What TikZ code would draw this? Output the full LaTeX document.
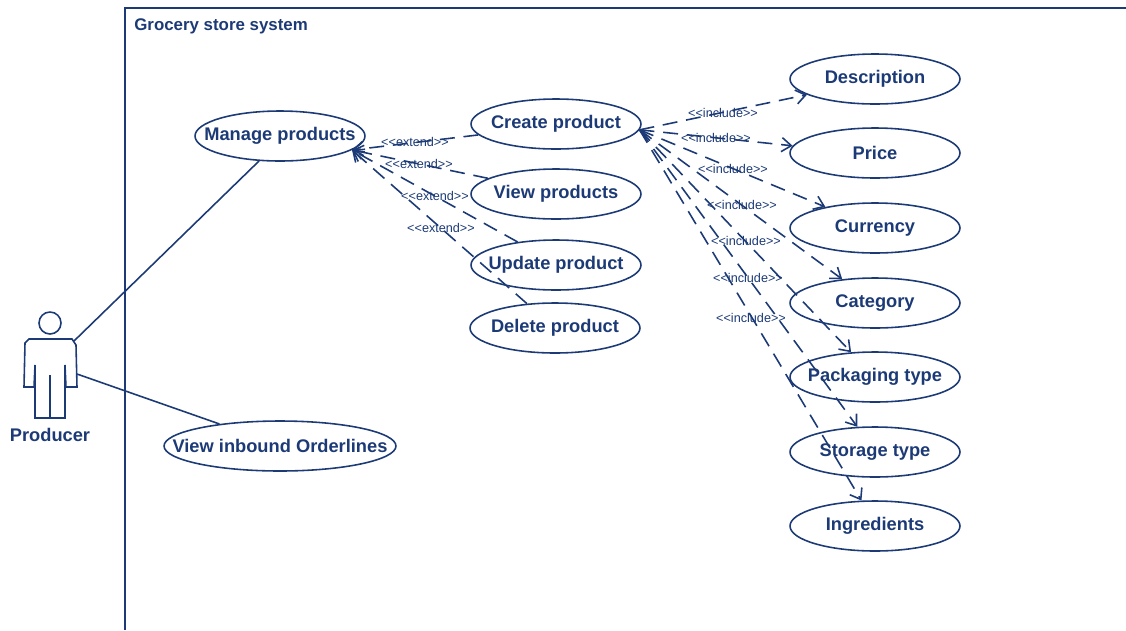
\documentclass[tikz,border=0pt]{standalone}
\usepackage{fontspec}
\setmainfont{Liberation Sans}
\usepackage{xcolor}
\usetikzlibrary{arrows.meta,shapes.geometric}
\definecolor{umlblue}{RGB}{28,58,118}
\newcommand{\uctext}[1]{\makebox[0pt]{\raisebox{-1.6pt}{#1}}}
\newcommand{\extendtext}{<{}<extend>{}>}
\newcommand{\includetext}{<{}<include>{}>}
\tikzset{
    usecase/.style={draw=umlblue, ellipse, line width=0.9pt, minimum width=3.4cm, minimum height=1cm, inner sep=0pt, text=umlblue, font=\fontsize{10.4}{12}\selectfont\bfseries},
    stereo/.style={text=umlblue, inner sep=0pt, font=\fontsize{7.2}{9}\selectfont},
    assoc/.style={draw=umlblue, line width=0.9pt},
    dep/.style={draw=umlblue, line width=0.9pt, dash pattern=on 8.5pt off 5pt, -{Straight Barb[length=5.5pt,width=8pt]}}
}
\begin{document}
\begin{tikzpicture}[x=0.02cm, y=-0.02cm]
    \useasboundingbox (0, 0) rectangle (1126, 630);
    \coordinate (f1) at (125, 630);
    \coordinate (f2) at (125, 8);
    \coordinate (f3) at (1126, 8);
    \draw[assoc] (f1) -- (f2) -- (f3);
    \node[anchor=west, text=umlblue, inner sep=0pt, font=\fontsize{9.6}{11}\selectfont\bfseries] (system) at (134, 26) {Grocery store system};

    % actor
    \node[draw=umlblue, circle, line width=0.9pt, minimum size=0.44cm, inner sep=0pt] (head) at (50, 323) {};
    \draw[assoc] (25, 343) -- (29, 339) -- (72, 339) -- (76, 345) -- (77, 387) -- (66, 387) -- (65, 365) -- (65, 418) -- (35, 418) -- (35, 365) -- (34, 387) -- (24, 387) -- cycle;
    \draw[assoc] (50, 375) -- (50, 418);
    \node[text=umlblue, font=\fontsize{10.4}{12}\selectfont\bfseries, inner sep=0pt] (producer) at (50, 435) {Producer};
    \coordinate (arm1) at (74, 341);
    \coordinate (arm2) at (77, 374);

    \node[usecase] (manage) at (280, 136) {\uctext{Manage products}};
    \node[usecase, minimum width=4.64cm] (inbound) at (280, 446) {\uctext{View inbound Orderlines}};
    \node[usecase] (create) at (556, 124) {\uctext{Create product}};
    \node[usecase] (view) at (556, 194) {\uctext{View products}};
    \node[usecase] (update) at (556, 265) {\uctext{Update product}};
    \node[usecase] (delete) at (555, 328) {\uctext{Delete product}};
    \node[usecase] (description) at (875, 79) {\uctext{Description}};
    \node[usecase] (price) at (875, 153) {\uctext{Price}};
    \node[usecase] (currency) at (875, 228) {\uctext{Currency}};
    \node[usecase] (category) at (875, 303) {\uctext{Category}};
    \node[usecase] (packaging) at (875, 377) {\uctext{Packaging type}};
    \node[usecase] (storage) at (875, 452) {\uctext{Storage type}};
    \node[usecase] (ingredients) at (875, 526) {\uctext{Ingredients}};

    \draw[assoc] (arm1) -- (manage.230);
    \draw[assoc] (arm2) -- (inbound.160);

    \draw[dep] (create.188) -- (manage.-11);
    \draw[dep] (view.167) -- (manage.-11);
    \draw[dep] (update.149) -- (manage.-11);
    \draw[dep] (delete.139) -- (manage.-11);

    \draw[dep] (create.-4) -- (description.193);
    \draw[dep] (create.-4) -- (price.175);
    \draw[dep] (create.-4) -- (currency.157);
    \draw[dep] (create.-4) -- (category.144);
    \draw[dep] (create.-4) -- (packaging.134);
    \draw[dep] (create.-4) -- (storage.125);
    \draw[dep] (create.-4) -- (ingredients.118);

    \node[stereo] (e1) at (415, 142) {\extendtext};
    \node[stereo] (e2) at (419, 164) {\extendtext};
    \node[stereo] (e3) at (435, 196) {\extendtext};
    \node[stereo] (e4) at (441, 228) {\extendtext};
    \node[stereo] (i1) at (723, 113) {\includetext};
    \node[stereo] (i2) at (716, 138) {\includetext};
    \node[stereo] (i3) at (733, 169) {\includetext};
    \node[stereo] (i4) at (742, 205) {\includetext};
    \node[stereo] (i5) at (746, 241) {\includetext};
    \node[stereo] (i6) at (748, 278) {\includetext};
    \node[stereo] (i7) at (751, 318) {\includetext};
\end{tikzpicture}
\end{document}
